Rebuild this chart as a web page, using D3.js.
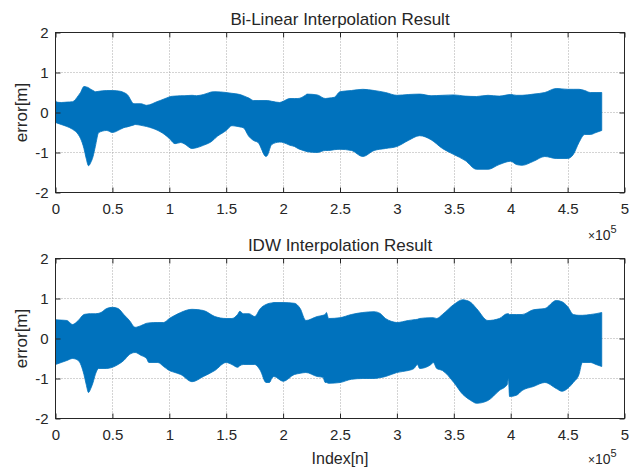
<!DOCTYPE html>
<html><head><meta charset="utf-8">
<script src="https://cdn.jsdelivr.net/npm/d3@7"></script>
<style>body{margin:0;background:#fff}svg{display:block}text{font-family:"Liberation Sans",Arial,sans-serif;fill:#262626}</style>
</head><body><svg id="c" width="640" height="469"></svg>
<script>
// x positions in units of 1e5 samples
const xTicks = [0,0.5,1,1.5,2,2.5,3,3.5,4,4.5,5];
const yTicks = [-2,-1,0,1,2];
const titles = ["Bi-Linear Interpolation Result","IDW Interpolation Result"];

const bilX = [0,0.01,0.05,0.1,0.15,0.2,0.22,0.25,0.27,0.29,0.31,0.33,0.35,0.38,0.45,0.5,0.57,0.6,0.63,0.69,0.7,0.75,0.8,0.9,0.92,1.0,1.01,1.05,1.1,1.13,1.2,1.24,1.3,1.39,1.4,1.5,1.55,1.62,1.65,1.7,1.74,1.78,1.85,1.86,1.9,1.97,2.0,2.06,2.1,2.13,2.2,2.21,2.3,2.37,2.4,2.45,2.5,2.6,2.7,2.8,2.9,3.0,3.1,3.2,3.3,3.4,3.5,3.6,3.7,3.8,3.9,4.0,4.05,4.1,4.2,4.3,4.4,4.5,4.55,4.6,4.65,4.7,4.75,4.8];
const bilUp = [0.31,0.26,0.25,0.26,0.27,0.42,0.5,0.65,0.64,0.62,0.58,0.55,0.52,0.53,0.55,0.55,0.53,0.5,0.45,0.22,0.22,0.22,0.18,0.28,0.3,0.39,0.4,0.41,0.42,0.42,0.43,0.42,0.45,0.52,0.52,0.5,0.48,0.45,0.42,0.36,0.3,0.3,0.3,0.3,0.28,0.25,0.28,0.35,0.35,0.35,0.44,0.46,0.44,0.35,0.36,0.38,0.52,0.55,0.58,0.55,0.5,0.43,0.45,0.46,0.42,0.43,0.44,0.41,0.4,0.43,0.41,0.45,0.43,0.43,0.46,0.5,0.6,0.58,0.58,0.58,0.55,0.5,0.5,0.5];
const bilLo = [-0.25,-0.26,-0.3,-0.35,-0.42,-0.55,-0.65,-0.9,-1.15,-1.33,-1.25,-1.1,-0.85,-0.5,-0.45,-0.5,-0.42,-0.38,-0.36,-0.31,-0.3,-0.32,-0.35,-0.45,-0.48,-0.65,-0.68,-0.78,-0.75,-0.78,-0.9,-0.88,-0.82,-0.68,-0.65,-0.45,-0.33,-0.36,-0.38,-0.6,-0.7,-0.75,-1.1,-1.08,-0.8,-0.74,-0.75,-0.82,-0.85,-0.9,-0.97,-0.98,-1.0,-0.95,-0.95,-0.93,-0.92,-0.95,-1.1,-0.95,-0.9,-0.85,-0.7,-0.58,-0.68,-0.9,-1.05,-1.2,-1.42,-1.42,-1.3,-1.22,-1.3,-1.32,-1.22,-1.1,-1.15,-1.15,-1.05,-0.75,-0.55,-0.55,-0.5,-0.45];

const idwX = [0,0.05,0.1,0.15,0.2,0.25,0.27,0.29,0.31,0.33,0.35,0.38,0.4,0.45,0.5,0.55,0.6,0.65,0.7,0.75,0.8,0.82,0.9,0.95,1.0,1.05,1.1,1.2,1.3,1.4,1.5,1.55,1.6,1.62,1.65,1.7,1.75,1.8,1.85,1.88,1.9,1.92,2.0,2.1,2.15,2.2,2.3,2.35,2.37,2.38,2.4,2.5,2.6,2.7,2.8,2.85,2.9,2.95,3.0,3.1,3.15,3.18,3.2,3.3,3.32,3.35,3.4,3.5,3.58,3.6,3.65,3.7,3.8,3.9,3.97,3.98,3.99,4.05,4.1,4.2,4.3,4.4,4.45,4.5,4.55,4.6,4.63,4.7,4.75,4.8];
const idwUp = [0.47,0.46,0.45,0.35,0.45,0.6,0.61,0.62,0.62,0.62,0.62,0.63,0.65,0.75,0.78,0.75,0.6,0.45,0.28,0.32,0.38,0.39,0.4,0.4,0.5,0.58,0.65,0.73,0.7,0.55,0.5,0.5,0.6,0.68,0.62,0.62,0.55,0.75,0.85,0.88,0.89,0.9,0.9,0.88,0.75,0.45,0.55,0.58,0.6,0.65,0.5,0.52,0.6,0.65,0.67,0.63,0.5,0.43,0.4,0.45,0.47,0.48,0.5,0.52,0.52,0.5,0.6,0.85,0.97,0.96,0.9,0.75,0.45,0.5,0.62,0.62,0.6,0.6,0.6,0.72,0.75,0.95,0.92,0.8,0.6,0.58,0.58,0.6,0.62,0.65];
const idwLo = [-0.65,-0.6,-0.55,-0.5,-0.55,-0.9,-1.15,-1.35,-1.25,-1.1,-0.9,-0.75,-0.75,-0.75,-0.72,-0.65,-0.55,-0.4,-0.35,-0.42,-0.5,-0.6,-0.6,-0.7,-0.8,-0.85,-0.9,-1.08,-0.95,-0.8,-0.6,-0.65,-0.72,-0.68,-0.65,-0.65,-0.65,-0.8,-1.1,-1.1,-1.0,-0.95,-1.07,-0.9,-0.87,-0.85,-0.95,-0.97,-1.1,-1.1,-1.12,-1.1,-1.02,-1.0,-1.0,-0.98,-0.95,-0.9,-0.85,-0.8,-0.75,-0.65,-0.75,-0.65,-0.6,-0.75,-0.8,-1.1,-1.4,-1.45,-1.55,-1.62,-1.55,-1.3,-1.15,-1.0,-1.45,-1.42,-1.3,-1.2,-1.1,-1.25,-1.32,-1.25,-1.1,-0.9,-0.6,-0.6,-0.65,-0.7];

const svg = d3.select("#c");
const panels = [
  {top:32.5, bottom:192.5, x:bilX, up:bilUp, lo:bilLo, title:titles[0], titleY:25, xlab:null, expY:240},
  {top:258.5, bottom:418.5, x:idwX, up:idwUp, lo:idwLo, title:titles[1], titleY:251, xlab:"Index[n]", expY:464}
];
const L = 55.5, R = 624.5;
panels.forEach(p => {
  const x = d3.scaleLinear().domain([0,5]).range([L,R]);
  const y = d3.scaleLinear().domain([-2,2]).range([p.bottom,p.top]);
  const g = svg.append("g");
  // grid
  g.selectAll(".gx").data(xTicks.slice(1,-1)).join("line")
    .attr("x1",d=>Math.round(x(d))+0.5).attr("x2",d=>Math.round(x(d))+0.5).attr("y1",p.top).attr("y2",p.bottom)
    .attr("stroke","#a8a8a8").attr("stroke-width",1).attr("stroke-dasharray","1,2");
  g.selectAll(".gy").data(yTicks.slice(1,-1)).join("line")
    .attr("y1",d=>y(d)).attr("y2",d=>y(d)).attr("x1",L).attr("x2",R)
    .attr("stroke","#a8a8a8").attr("stroke-width",1).attr("stroke-dasharray","1,2");
  // data envelope
  const idx = d3.range(p.x.length);
  const area = d3.area().curve(d3.curveMonotoneX).x(i=>x(p.x[i])).y0(i=>y(p.lo[i])).y1(i=>y(p.up[i]));
  g.append("path").attr("d",area(idx)).attr("fill","#0072BD").attr("stroke","#0072BD").attr("stroke-width",0.8);
  // axes (inward ticks on all sides)
  const tick = 5;
  const fmt = d => String(d);
  const ax = d3.axisBottom(x).tickValues(xTicks).tickFormat(fmt).tickSizeInner(-tick).tickSizeOuter(0);
  const axg = g.append("g").attr("transform",`translate(0,${p.bottom})`).call(ax);
  const axT = d3.axisTop(x).tickValues(xTicks).tickFormat("").tickSizeInner(-tick).tickSizeOuter(0);
  const axtg = g.append("g").attr("transform",`translate(0,${p.top})`).call(axT);
  const ay = d3.axisLeft(y).tickValues(yTicks).tickFormat(fmt).tickSizeInner(-tick).tickSizeOuter(0);
  const ayg = g.append("g").attr("transform",`translate(${L},0)`).call(ay);
  const ayR = d3.axisRight(y).tickValues(yTicks).tickFormat("").tickSizeInner(-tick).tickSizeOuter(0);
  const ayrg = g.append("g").attr("transform",`translate(${R},0)`).call(ayR);
  [axg,axtg,ayg,ayrg].forEach(a=>{
    a.selectAll("path").remove();
    a.selectAll("line").attr("stroke","#262626");
    a.selectAll("text").style("font-size","15px").attr("fill","#262626");
  });
  ayg.selectAll("text").attr("x",-7).attr("dy","0.35em");
  axg.selectAll("text").attr("y",21).attr("dy",0);
  g.append("rect").attr("x",L).attr("y",p.top).attr("width",R-L).attr("height",p.bottom-p.top)
    .attr("fill","none").attr("stroke","#262626").attr("stroke-width",1);
  // title
  svg.append("text").attr("x",(L+R)/2).attr("y",p.titleY).attr("text-anchor","middle").style("font-size","17px").text(p.title);
  // ylabel
  svg.append("text").attr("transform",`translate(27,${(p.top+p.bottom)/2}) rotate(-90)`).attr("text-anchor","middle").style("font-size","17px").text("error[m]");
  // exponent
  const e = svg.append("text").attr("x",588).attr("y",p.expY).style("font-size","14px");
  e.append("tspan").style("font-size","12px").text("×");
  e.append("tspan").text("10");
  e.append("tspan").attr("dy",-7).style("font-size","11px").text("5");
  if (p.xlab) svg.append("text").attr("x",(L+R)/2).attr("y",464).attr("text-anchor","middle").style("font-size","16px").text(p.xlab);
});
</script></body></html>
